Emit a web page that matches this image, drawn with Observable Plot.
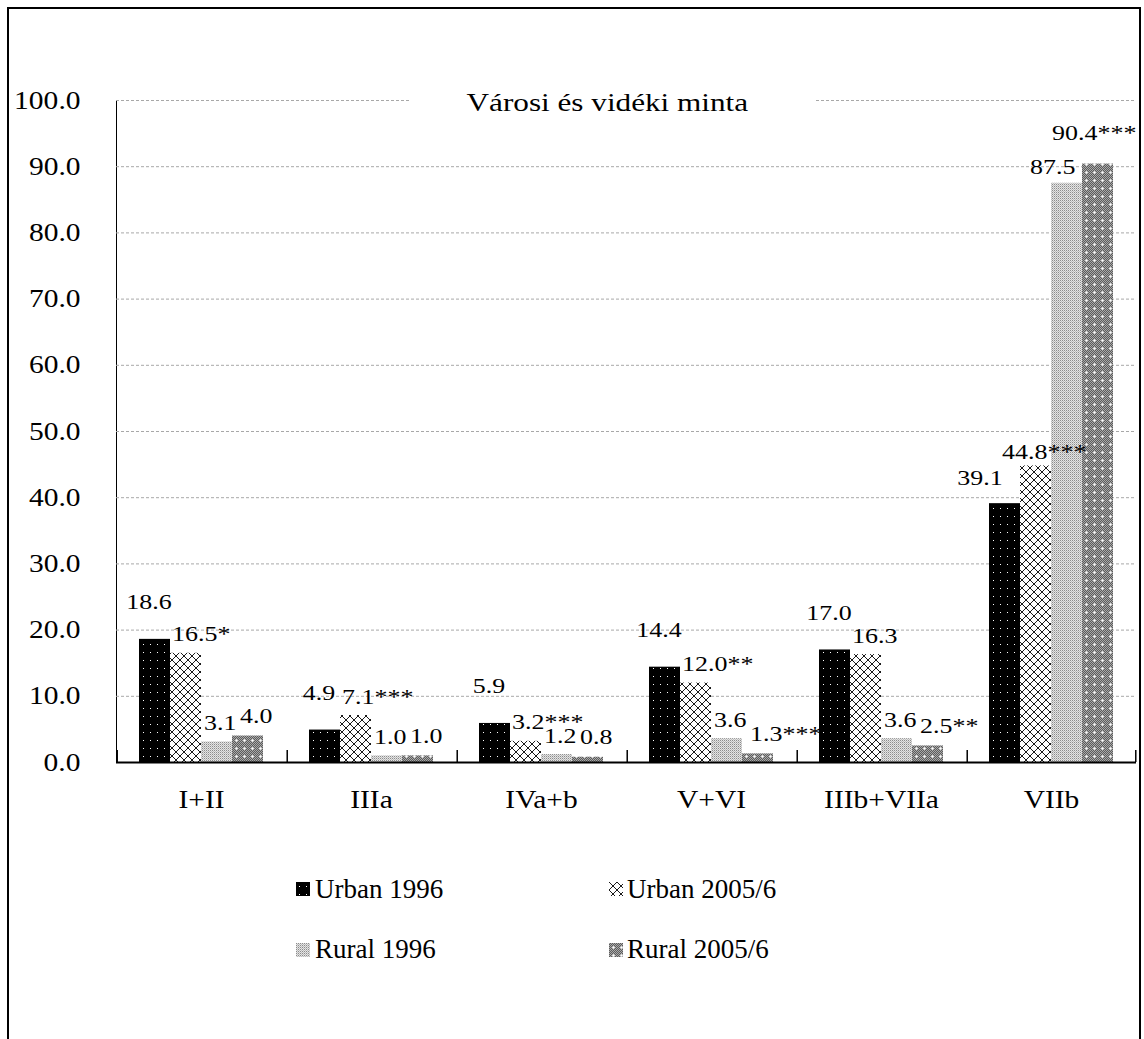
<!DOCTYPE html>
<html><head><meta charset="utf-8">
<script src="https://cdn.jsdelivr.net/npm/d3@7"></script>
<script src="https://cdn.jsdelivr.net/npm/@observablehq/plot@0.6"></script>
<style>
body{margin:0;background:#fff;font-family:"Liberation Serif","Times New Roman",serif;color:#000;}
#wrap{position:relative;width:1144px;height:1039px;overflow:hidden;background:#fff;}
#border{position:absolute;left:7px;top:7px;width:1130px;height:1100px;border:2px solid #000;border-bottom:none;}
#chart{position:absolute;left:0;top:0;}
#title{position:absolute;left:410px;top:88px;width:405px;height:30px;background:#fff;text-align:center;line-height:30px;font-size:26px;padding-right:10px;box-sizing:border-box;}
#title span{display:inline-block;transform:scaleX(1.2);}
.lg{position:absolute;font-size:27px;line-height:27px;white-space:nowrap;}
.sw{position:absolute;width:14px;height:14px;}
</style></head>
<body>
<svg width="0" height="0" style="position:absolute"><defs id="pdefs"></defs></svg>
<div id="wrap">
  <div id="border"></div>
  <div id="chart"></div>
  <div id="title"><span>Városi és vidéki minta</span></div>
  <div id="legend"></div>
</div>
<script>
// ---- data ----
const categories = ["I+II", "IIIa", "IVa+b", "V+VI", "IIIb+VIIa", "VIIb"];
const series = ["Urban 1996", "Urban 2005/6", "Rural 1996", "Rural 2005/6"];
const urban1996 = [18.6, 4.9, 5.9, 14.4, 17.0, 39.1];
const urban2005 = [16.5, 7.1, 3.2, 12.0, 16.3, 44.8];
const rural1996 = [3.1, 1.0, 1.2, 3.6, 3.6, 87.5];
const rural2005 = [4.0, 1.0, 0.8, 1.3, 2.5, 90.4];
const sigUrban2005 = ["*", "***", "***", "**", "", "***"];
const sigRural2005 = ["", "", "", "***", "**", "***"];
const yTicks = [0, 10, 20, 30, 40, 50, 60, 70, 80, 90, 100];

const values = [urban1996, urban2005, rural1996, rural2005];
const sigs = [categories.map(() => ""), sigUrban2005, categories.map(() => ""), sigRural2005];
const data = categories.flatMap((c, i) => series.map((s, k) => ({
  category: c, series: s, k, last: i === categories.length - 1,
  value: values[k][i], label: values[k][i].toFixed(1) + sigs[k][i]
})));

// ---- patterns ----
const NS = "http://www.w3.org/2000/svg";
const defs = document.getElementById("pdefs");
function pattern(id, w, h, pix) {
  const p = document.createElementNS(NS, "pattern");
  p.setAttribute("id", id); p.setAttribute("patternUnits", "userSpaceOnUse");
  p.setAttribute("width", w); p.setAttribute("height", h);
  pix(p); defs.appendChild(p);
}
function px(p, x, y, w, h, fill) {
  const r = document.createElementNS(NS, "rect");
  r.setAttribute("x", x); r.setAttribute("y", y); r.setAttribute("width", w); r.setAttribute("height", h);
  r.setAttribute("fill", fill); p.appendChild(r);
}
pattern("p0", 7, 8, p => { px(p, 0, 0, 7, 8, "#000"); px(p, 3, 4, 1, 1, "#fff"); });
pattern("p1", 8, 8, p => {
  px(p, 0, 0, 8, 8, "#fff");
  const path = document.createElementNS(NS, "path");
  path.setAttribute("d", "M0,0L8,8M8,0L0,8M-1,7L1,9M7,-1L9,1M-1,1L1,-1M7,9L9,7");
  path.setAttribute("stroke", "#000"); path.setAttribute("stroke-width", "0.9"); path.setAttribute("fill", "none");
  p.appendChild(path);
});
pattern("p2", 2, 2, p => { px(p, 0, 0, 2, 2, "#e4e4e4"); px(p, 0, 0, 1, 1, "#8c8c8c"); px(p, 1, 1, 1, 1, "#bcbcbc"); });
pattern("p3", 8, 8, p => {
  for (let i = 0; i < 8; i++) for (let j = 0; j < 8; j++) px(p, i, j, 1, 1, (i + j) % 2 ? "#5c5c5c" : "#a9a9a9");
  px(p, 4, 4, 1, 1, "#fff"); px(p, 3, 4, 1, 1, "#ddd"); px(p, 5, 4, 1, 1, "#ddd"); px(p, 4, 3, 1, 1, "#ddd"); px(p, 4, 5, 1, 1, "#ddd");
});
const fills = ["url(#p0)", "url(#p1)", "url(#p2)", "url(#p3)"];

// ---- layout constants (styling) ----
const W = 1144, H = 840, mL = 116, mR = 8, mT = 100, mB = 78;
const padOuter = 0.7;
const facetW = (W - mL - mR) / categories.length;
const step = facetW / (series.length + 2 * padOuter);
const edge = padOuter * step + step / 2;

const labelStyle = [
  {textAnchor: "middle", dx: -6, dy: -37},
  {textAnchor: "start", dx: -14, dy: -19},
  {textAnchor: "start", dx: -13, dy: -19},
  {textAnchor: "start", dx: -8, dy: -20}
];
const lastStyle = [
  {textAnchor: "middle", dx: -25, dy: -26},
  {textAnchor: "start", dx: -34, dy: -14},
  {textAnchor: "start", dx: -37, dy: -16},
  {textAnchor: "start", dx: -46, dy: -31}
];
const textMarks = [];
series.forEach((s, k) => {
  textMarks.push(Plot.text(data.filter(d => d.k === k && !d.last), {
    fx: "category", x: "series", y: "value", text: "label", fontSize: 22, fill: "#000", ...labelStyle[k]
  }));
  textMarks.push(Plot.text(data.filter(d => d.k === k && d.last), {
    fx: "category", x: "series", y: "value", text: "label", fontSize: 22, fill: "#000", ...lastStyle[k]
  }));
});

const chart = Plot.plot({
  width: W, height: H,
  marginLeft: mL, marginRight: mR, marginTop: mT, marginBottom: mB,
  style: {fontFamily: "'Liberation Serif', 'Times New Roman', serif", fontSize: "25px", background: "transparent", color: "#000", overflow: "visible"},
  fx: {domain: categories, padding: 0, axis: "bottom", label: null, tickSize: 0, tickPadding: 28},
  x: {domain: series, axis: null, paddingInner: 0, paddingOuter: padOuter},
  y: {domain: [0, 100], ticks: yTicks, tickFormat: d => d.toFixed(1), label: null, tickSize: 0, tickPadding: 36, line: true},
  color: {domain: series, range: fills},
  marks: [
    Plot.ruleY(yTicks.filter(t => t > 0), {stroke: "#a8a8a8", strokeWidth: 1, strokeDasharray: "3,2"}),
    Plot.barY(data, {fx: "category", x: "series", y: "value", fill: "series"}),
    Plot.ruleY([0], {stroke: "#000", strokeWidth: 2}),
    Plot.ruleX(categories, {fx: d => d, x: () => series[0], y1: 0, y2: 0, insetTop: -12, dx: -edge, stroke: "#000", strokeWidth: 1.5}),
    Plot.ruleX(categories.slice(-1), {fx: d => d, x: () => series[series.length - 1], y1: 0, y2: 0, insetTop: -12, dx: edge, stroke: "#000", strokeWidth: 1.5}),
    ...textMarks
  ]
});
document.getElementById("chart").appendChild(chart);

// horizontal stretch of text to match the reference's wide serif rendering
function stretch() {
  chart.querySelectorAll("text").forEach(t => {
    t.removeAttribute("textLength");
    const L = t.getComputedTextLength();
    if (L > 0) { t.setAttribute("textLength", (L * 1.18).toFixed(1)); t.setAttribute("lengthAdjust", "spacingAndGlyphs"); }
  });
}
stretch();

// ---- legend ----
const legend = document.getElementById("legend");
const legendPos = [
  {sx: 296, sy: 882, tx: 315, ty: 876},
  {sx: 609, sy: 882, tx: 627, ty: 876},
  {sx: 296, sy: 943, tx: 315, ty: 936},
  {sx: 609, sy: 943, tx: 627, ty: 936}
];
series.forEach((s, k) => {
  const p = legendPos[k];
  const sw = document.createElementNS(NS, "svg");
  sw.setAttribute("class", "sw"); sw.setAttribute("width", 14); sw.setAttribute("height", 14);
  sw.style.left = p.sx + "px"; sw.style.top = p.sy + "px";
  const r = document.createElementNS(NS, "rect");
  r.setAttribute("width", 14); r.setAttribute("height", 14); r.setAttribute("fill", fills[k]);
  sw.appendChild(r); legend.appendChild(sw);
  const t = document.createElement("div");
  t.className = "lg"; t.textContent = s; t.style.left = p.tx + "px"; t.style.top = p.ty + "px";
  legend.appendChild(t);
});
</script>
</body></html>
